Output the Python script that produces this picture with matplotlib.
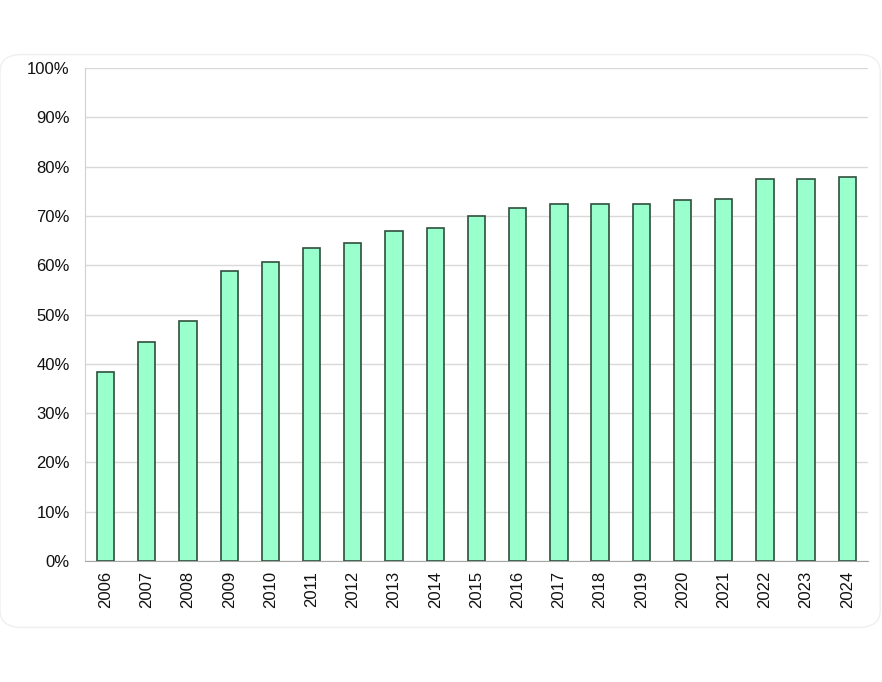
import numpy as np
import matplotlib.pyplot as plt
from matplotlib.patches import FancyBboxPatch
from matplotlib.ticker import PercentFormatter

plt.rcParams['font.family'] = ['Liberation Sans', 'DejaVu Sans']

years = ['2006', '2007', '2008', '2009', '2010', '2011', '2012', '2013', '2014', '2015',
         '2016', '2017', '2018', '2019', '2020', '2021', '2022', '2023', '2024']
share = [38.4, 44.5, 48.7, 58.9, 60.6, 63.4, 64.6, 66.9, 67.6, 70.0,
         71.7, 72.4, 72.5, 72.5, 73.2, 73.4, 77.5, 77.5, 77.8]

fig = plt.figure(figsize=(8.82, 6.82), dpi=100)

# faint rounded card behind the chart
card = FancyBboxPatch((0.0, 0.08), 0.998, 0.84, boxstyle='round,pad=0,rounding_size=0.025',
                      transform=fig.transFigure, facecolor='white', edgecolor='#efefef',
                      linewidth=1.0, zorder=-5)
fig.patches.append(card)

ax = fig.add_axes([0.0964, 0.1774, 0.8876, 0.7229])
ax.set_zorder(2)
ax.set_facecolor('none')

x = np.arange(len(years))
ax.bar(x, share, width=0.42, color='#99ffcc', edgecolor='#2f4f3c', linewidth=1.2, zorder=3)

ax.set_xlim(-0.5, len(years) - 0.5)
ax.set_ylim(0, 100)
ax.set_yticks(np.arange(0, 101, 10))
ax.yaxis.set_major_formatter(PercentFormatter(decimals=0))
ax.set_xticks(x)
ax.set_xticklabels(years, rotation=90)

ax.grid(axis='y', color='#d9d9d9', linewidth=1.0, zorder=0)
ax.tick_params(axis='y', length=0, pad=11, labelsize=12, labelcolor='#111111')
ax.tick_params(axis='x', length=0, pad=7, labelsize=12, labelcolor='#111111')

for s in ['top', 'right']:
    ax.spines[s].set_visible(False)
ax.spines['left'].set_color('#d0d0d0')
ax.spines['bottom'].set_color('#a6a6a6')

fig.savefig('out.png', dpi=100)
